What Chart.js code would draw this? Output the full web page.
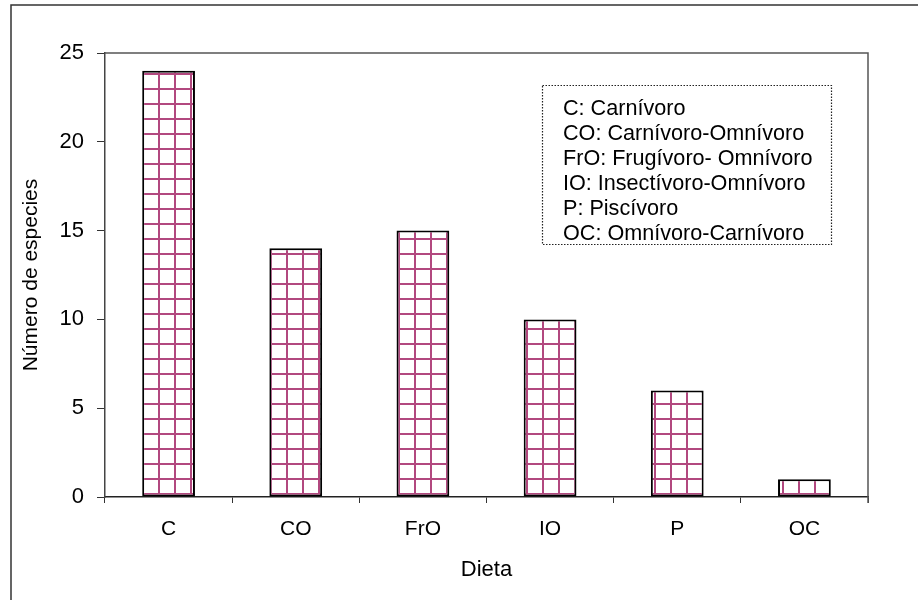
<!DOCTYPE html>
<html>
<head>
<meta charset="utf-8">
<script src="https://cdn.jsdelivr.net/npm/chart.js@4.4.1/dist/chart.umd.min.js"></script>
<style>
  html, body { margin: 0; padding: 0; background: #fff; }
  canvas { display: block; }
</style>
</head>
<body>
<canvas id="dietChart" width="918" height="600"></canvas>
<script>
// Dieta de las especies
var categories = ["C", "CO", "FrO", "IO", "P", "OC"];
var speciesCount = [24, 14, 15, 10, 6, 1];
var legendLines = [
    "C: Carnívoro",
    "CO: Carnívoro-Omnívoro",
    "FrO: Frugívoro- Omnívoro",
    "IO: Insectívoro-Omnívoro",
    "P: Piscívoro",
    "OC: Omnívoro-Carnívoro"
];

var FONT = "'Liberation Sans', Arial, sans-serif";

// pink grid fill for the bars
function gridPattern() {
    var tile = document.createElement('canvas');
    tile.width = 16;
    tile.height = 15;
    var t = tile.getContext('2d');
    t.fillStyle = '#ffffff';
    t.fillRect(0, 0, 16, 15);
    t.strokeStyle = 'rgba(165,40,105,0.85)';
    t.lineWidth = 2;
    t.beginPath();
    t.moveTo(15, 0); t.lineTo(15, 15);
    t.moveTo(0, 14); t.lineTo(16, 14);
    t.stroke();
    return document.getElementById('dietChart').getContext('2d').createPattern(tile, 'repeat');
}

// outer frame, plot frame and the dotted legend box
var decorations = {
    id: 'decorations',
    beforeDraw: function(chart) {
        var ctx = chart.ctx;
        ctx.save();
        ctx.strokeStyle = '#333';
        ctx.lineWidth = 1.5;
        ctx.beginPath();
        ctx.moveTo(11, 610);
        ctx.lineTo(11, 5);
        ctx.lineTo(930, 5);
        ctx.stroke();
        ctx.restore();
    },
    afterDraw: function(chart) {
        var ctx = chart.ctx;
        var a = chart.chartArea;
        ctx.save();
        ctx.strokeStyle = '#555';
        ctx.lineWidth = 1.5;
        ctx.beginPath();
        ctx.moveTo(a.left, a.top);
        ctx.lineTo(a.right, a.top);
        ctx.lineTo(a.right, a.bottom + 6);
        ctx.stroke();

        ctx.strokeStyle = '#222';
        ctx.lineWidth = 1.2;
        ctx.setLineDash([1.5, 1.5]);
        ctx.strokeRect(542.5, 85.5, 289, 159);
        ctx.setLineDash([]);

        ctx.fillStyle = '#000';
        ctx.font = '21.6px ' + FONT;
        ctx.textBaseline = 'middle';
        ctx.textAlign = 'left';
        for (var i = 0; i < legendLines.length; i++) {
            ctx.fillText(legendLines[i], 563, 109 + i * 25);
        }
        ctx.restore();
    }
};

new Chart(document.getElementById('dietChart'), {
    type: 'bar',
    data: {
        labels: categories,
        datasets: [{
            data: speciesCount,
            backgroundColor: gridPattern(),
            borderColor: '#000',
            borderWidth: 2,
            borderSkipped: false,
            categoryPercentage: 1,
            barPercentage: 0.415
        }]
    },
    options: {
        responsive: false,
        animation: false,
        layout: { padding: { left: 0, top: 53, right: 50, bottom: 0 } },
        plugins: {
            legend: { display: false },
            tooltip: { enabled: false }
        },
        scales: {
            x: {
                offset: true,
                afterFit: function(scale) { scale.height = 103; },
                grid: { drawOnChartArea: false, tickLength: 6, color: '#333', offset: true },
                border: { color: '#222', width: 1.5 },
                ticks: { color: '#000', padding: 14, font: { family: FONT, size: 21 } },
                title: {
                    display: true,
                    text: 'Dieta',
                    color: '#000',
                    padding: { top: 0, bottom: 17 },
                    font: { family: FONT, size: 22 }
                }
            },
            y: {
                min: 0,
                max: 25,
                afterFit: function(scale) { scale.width = 105; },
                grid: { drawOnChartArea: false, tickLength: 8, color: '#333' },
                border: { color: '#444', width: 1.5 },
                ticks: { stepSize: 5, color: '#000', padding: 13, font: { family: FONT, size: 22 } },
                title: {
                    display: true,
                    text: 'Número de especies',
                    color: '#000',
                    padding: { top: 19, bottom: 0 },
                    font: { family: FONT, size: 21 }
                }
            }
        }
    },
    plugins: [decorations]
});
</script>
</body>
</html>
